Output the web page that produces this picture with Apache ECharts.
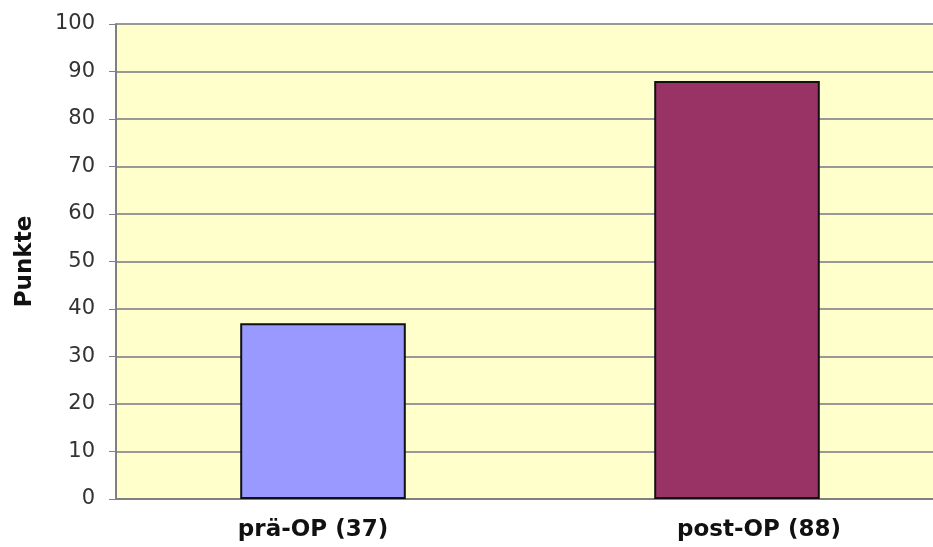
<!DOCTYPE html>
<html><head><meta charset="utf-8">
<script src="https://cdn.jsdelivr.net/npm/echarts@6/dist/echarts.min.js"></script>
<style>html,body{margin:0;padding:0;background:#fff;overflow:hidden}#c{width:960px;height:547px}</style>
</head><body><div id="c"></div>
<script>
var categories = ['prä-OP (37)', 'post-OP (88)'];
var values = [37, 88];
var barColors = ['#9999FF', '#993366'];
var yTicks = {min: 0, max: 100, interval: 10};
var labelPads = [[0, 20, 0, 0], [0, 0, 0, 44]];

var chart = echarts.init(document.getElementById('c'), null, {renderer: 'canvas'});
chart.setOption({
  animation: false,
  grid: {left: 116, right: 16, top: 24, bottom: 48, backgroundColor: '#FFFFCC', show: true, borderWidth: 0},
  xAxis: {
    type: 'category',
    data: categories.map(function (c, i) { return {value: c, textStyle: {padding: labelPads[i]}}; }),
    axisLine: {lineStyle: {color: '#808080', width: 2}},
    axisTick: {show: false},
    axisLabel: {color: '#111', fontWeight: 'bold', fontSize: 23, fontFamily: 'DejaVu Sans', margin: 20}
  },
  yAxis: {
    type: 'value', min: yTicks.min, max: yTicks.max, interval: yTicks.interval,
    name: 'Punkte', nameLocation: 'middle', nameGap: 79, nameRotate: 90,
    nameTextStyle: {color: '#111', fontWeight: 'bold', fontSize: 23, fontFamily: 'DejaVu Sans'},
    axisLine: {show: true, lineStyle: {color: '#808080', width: 2}},
    axisTick: {show: true, length: 7, lineStyle: {color: '#808080'}},
    axisLabel: {color: '#333', fontSize: 21, fontFamily: 'DejaVu Sans', margin: 21},
    splitLine: {lineStyle: {color: '#999999', width: 2}}
  },
  series: [{
    type: 'bar', barWidth: '40%',
    data: values.map(function (v, i) { return {value: v, itemStyle: {color: barColors[i]}}; }),
    itemStyle: {borderColor: '#111', borderWidth: 2}
  }]
});
</script></body></html>
